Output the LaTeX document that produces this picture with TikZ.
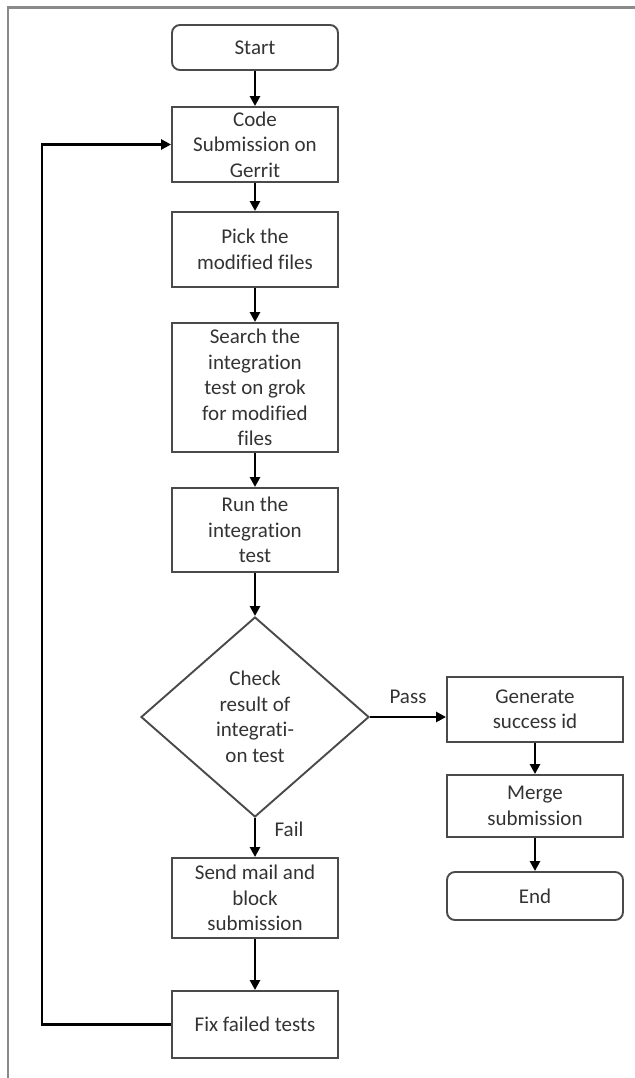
\documentclass[tikz,border=0pt]{standalone}
\usepackage{fontspec}
\setmainfont{Carlito}[Ligatures={NoCommon,NoRequired,NoContextual}]
\usetikzlibrary{shapes.geometric,arrows.meta,calc}
\definecolor{boxline}{HTML}{4A4A4A}
\definecolor{txt}{HTML}{333333}
\definecolor{framegrey}{HTML}{8A8A8A}
\begin{document}
\begin{tikzpicture}[x=1pt,y=-1pt,
  every node/.style={font=\fontsize{21}{25.5}\selectfont, text=txt},
  procbox/.style={draw=boxline, line width=1.9pt, rectangle, inner sep=0pt, align=center},
  termbox/.style={draw=boxline, line width=1.9pt, rectangle, rounded corners=8pt, inner sep=0pt, align=center},
  decbox/.style={draw=boxline, line width=1.9pt, diamond, inner sep=0pt, align=center},
  flow/.style={draw=black, line width=2.8pt, -{Triangle[length=10pt,width=10pt]}},
  lbl/.style={inner sep=0pt}]
\useasboundingbox (0,0) rectangle (634,1078);
% frame (top and left edges only are visible)
\draw[framegrey, line width=2.6pt] (8,1080) -- (8,7.5) -- (636,7.5);

\node[termbox, minimum width=166pt, minimum height=45pt] (start) at (255,47.5) {Start};
\node[procbox, minimum width=166pt, minimum height=75pt] (code) at (255,144.5) {Code\\Submission on\\Gerrit};
\node[procbox, minimum width=166pt, minimum height=75pt] (pick) at (255,249.5) {Pick the\\modified files};
\node[procbox, minimum width=166pt, minimum height=129pt] (search) at (255,387.5) {Search the\\integration\\test on grok\\for modified\\files};
\node[procbox, minimum width=166pt, minimum height=84pt] (run) at (255,530) {Run the\\integration\\test};
\node[decbox, minimum width=228pt, minimum height=200pt] (check) at (255,717) {Check\\result of\\integrati-\\on test};
\node[procbox, minimum width=166pt, minimum height=80pt] (send) at (255,898) {Send mail and\\block\\submission};
\node[procbox, minimum width=166pt, minimum height=67pt] (fix) at (255,1024.5) {Fix failed tests};

\node[procbox, minimum width=176pt, minimum height=65pt] (gen) at (535,709.5) {Generate\\success id};
\node[procbox, minimum width=176pt, minimum height=62pt] (merge) at (535,806) {Merge\\submission};
\node[termbox, minimum width=176pt, minimum height=48pt] (end) at (535,896) {End};

\node[lbl] (pass) at (408,697) {Pass};
\node[lbl] (fail) at (289,829) {Fail};

\coordinate (loopb) at (42,1024.5);
\coordinate (loopt) at (42,144.5);

\draw[flow] (start) -- (code);
\draw[flow] (code) -- (pick);
\draw[flow] (pick) -- (search);
\draw[flow] (search) -- (run);
\draw[flow] (run) -- (check);
\draw[flow] (check.east) -- (check.east -| gen.west);
\draw[flow] (check) -- (send);
\draw[flow] (send) -- (fix);
\draw[flow] (gen) -- (merge);
\draw[flow] (merge) -- (end);
\draw[flow] (fix.west) -- (loopb) -- (loopt) -- (code.west);
\end{tikzpicture}
\end{document}
